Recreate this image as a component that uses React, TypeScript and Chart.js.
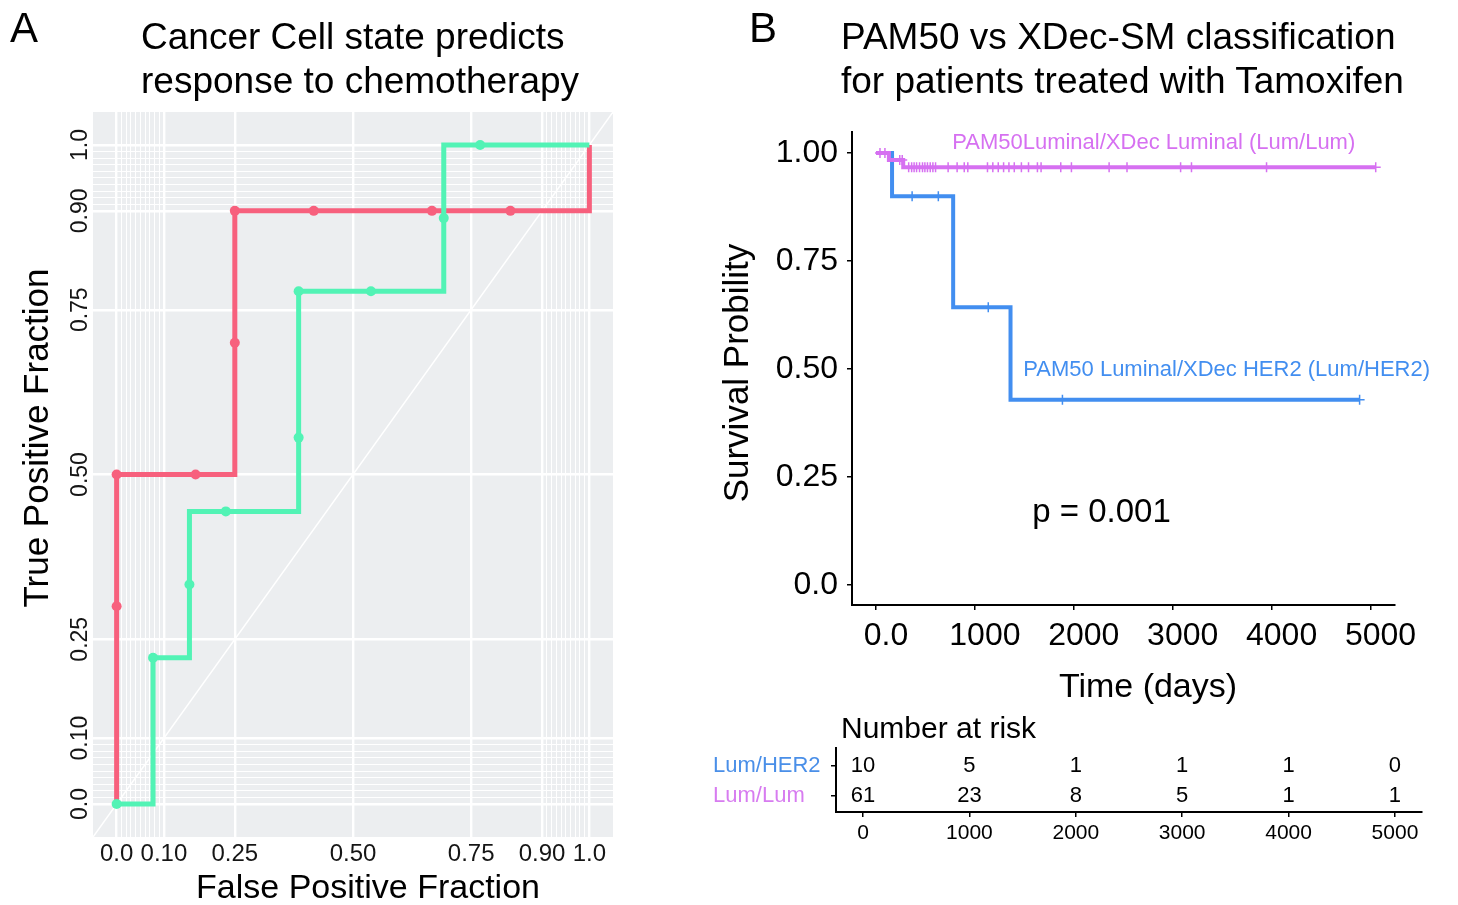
import React, { useEffect, useRef } from 'react';
import { Chart, registerables } from 'chart.js';

Chart.register(...registerables);

const FONT = '"Liberation Sans", Arial, Helvetica, sans-serif';

// ---------------- Panel A : ROC ----------------
const rocMajorTicks = [0, 0.1, 0.25, 0.5, 0.75, 0.9, 1.0];
const rocMajorLabels = ['0.0', '0.10', '0.25', '0.50', '0.75', '0.90', '1.0'];
const rocMinorTicks = [0.01, 0.02, 0.03, 0.04, 0.05, 0.06, 0.07, 0.08, 0.09, 0.91, 0.92, 0.93, 0.94, 0.95, 0.96, 0.97, 0.98, 0.99];

// red curve (path corners and cut-off points)
const redPathFPF = [0, 0, 0.25, 0.25, 1.0, 1.0];
const redPathTPF = [0, 0.5, 0.5, 0.9, 0.9, 1.0];
const redCutFPF = [0, 0, 0.167, 0.25, 0.25, 0.417, 0.667, 0.833];
const redCutTPF = [0.3, 0.5, 0.5, 0.7, 0.9, 0.9, 0.9, 0.9];

// green curve
const greenPathFPF = [0, 0.077, 0.077, 0.154, 0.154, 0.385, 0.385, 0.692, 0.692, 1.0];
const greenPathTPF = [0, 0, 0.222, 0.222, 0.444, 0.444, 0.778, 0.778, 1.0, 1.0];
const greenCutFPF = [0, 0.077, 0.154, 0.231, 0.385, 0.385, 0.538, 0.692, 0.769];
const greenCutTPF = [0, 0.222, 0.333, 0.444, 0.556, 0.778, 0.778, 0.889, 1.0];

const diagonal = [-0.05, 1.05];

const RED = '#f7607d';
const GREEN = '#52f3b5';
const PANEL_BG = '#eceef0';

// ---------------- Panel B : Kaplan-Meier ----------------
const kmTicks = [0, 1000, 2000, 3000, 4000, 5000];
const survTicks = [0, 0.25, 0.5, 0.75, 1.0];
const survTickLabels = ['0.0', '0.25', '0.50', '0.75', '1.00'];

const her2Times = [0, 162, 780, 1360, 4890];
const her2Surv = [1.0, 0.9, 0.643, 0.429, 0.429];
const her2Censor = [365, 630, 1135, 1885, 4890];

const lumTimes = [0, 130, 275, 5055];
const lumSurv = [1.0, 0.984, 0.967, 0.967];
const lumCensor = [40, 90, 240, 265, 330, 360, 385, 410, 440, 470, 494, 520, 548, 575, 602, 729, 820, 892, 928,
  1127, 1181, 1236, 1290, 1344, 1398, 1470, 1542, 1632, 1669, 1868, 1976, 2357, 2538, 3080, 3190, 3949, 5053];

const BLUE = '#428ef0';
const VIOLET = '#d670f1';

// ---------------- Risk table ----------------
const riskTimes = [0, 1000, 2000, 3000, 4000, 5000];
const riskHER2 = [10, 5, 1, 1, 1, 0];
const riskLum = [61, 23, 8, 5, 1, 1];
const riskGroups = ['Lum/Lum', 'Lum/HER2'];
const riskGroupColors = ['#d77cf0', '#4a8fe8'];

// ---------------- helpers ----------------
const near = (a: number, b: number) => Math.abs(a - b) < 1e-9;
const isRocMajor = (v: number) => rocMajorTicks.some((m) => near(m, v));
const rocLabel = (v: number) => {
  const i = rocMajorTicks.findIndex((m) => near(m, v));
  return i >= 0 ? rocMajorLabels[i] : '';
};
const zipXY = (xs: number[], ys: number[]) => xs.map((x, i) => ({ x, y: ys[i] }));

function stepPath(times: number[], surv: number[]) {
  const pts = [{ x: times[0], y: surv[0] }];
  for (let i = 1; i < times.length; i++) {
    pts.push({ x: times[i], y: surv[i - 1] });
    pts.push({ x: times[i], y: surv[i] });
  }
  return pts;
}
function survAt(times: number[], surv: number[], t: number) {
  let s = surv[0];
  for (let i = 0; i < times.length; i++) if (times[i] <= t) s = surv[i];
  return s;
}

type FreeText = { text: string; x: number; y: number; size: number; rotate?: number; align?: CanvasTextAlign; color?: string };
function makeTextPlugin(id: string, items: FreeText[]) {
  return {
    id,
    afterDraw(chart: any) {
      const ctx = chart.ctx;
      items.forEach((it) => {
        ctx.save();
        ctx.font = `${it.size}px ${FONT}`;
        ctx.fillStyle = it.color || '#000';
        ctx.textAlign = it.align || 'center';
        ctx.textBaseline = 'middle';
        ctx.translate(it.x, it.y);
        if (it.rotate) ctx.rotate(it.rotate);
        ctx.fillText(it.text, 0, 0);
        ctx.restore();
      });
    },
  };
}

type DataText = { text: string; t: number; s: number; size: number; color: string };
function makeDataTextPlugin(id: string, items: DataText[]) {
  return {
    id,
    afterDraw(chart: any) {
      const ctx = chart.ctx;
      const { x, y } = chart.scales;
      items.forEach((it) => {
        ctx.save();
        ctx.font = `${it.size}px ${FONT}`;
        ctx.fillStyle = it.color;
        ctx.textAlign = 'left';
        ctx.textBaseline = 'middle';
        ctx.fillText(it.text, x.getPixelForValue(it.t), y.getPixelForValue(it.s));
        ctx.restore();
      });
    },
  };
}

const panelBgPlugin = {
  id: 'panelBg',
  beforeDraw(chart: any) {
    const { ctx, chartArea: a } = chart;
    ctx.save();
    ctx.fillStyle = PANEL_BG;
    ctx.fillRect(a.left, a.top, a.right - a.left, a.bottom - a.top);
    ctx.restore();
  },
};

const rocYLabelsPlugin = {
  id: 'rocYLabels',
  afterDraw(chart: any) {
    const { ctx } = chart;
    const y = chart.scales.y;
    ctx.save();
    ctx.font = `23px ${FONT}`;
    ctx.fillStyle = '#151515';
    ctx.textAlign = 'center';
    ctx.textBaseline = 'middle';
    rocMajorTicks.forEach((v, i) => {
      ctx.save();
      ctx.translate(y.right - 12, y.getPixelForValue(v));
      ctx.rotate(-Math.PI / 2);
      ctx.fillText(rocMajorLabels[i], 0, 0);
      ctx.restore();
    });
    ctx.restore();
  },
};

const riskNumbersPlugin = {
  id: 'riskNumbers',
  afterDraw(chart: any) {
    const { ctx } = chart;
    const { x, y } = chart.scales;
    ctx.save();
    ctx.font = `22px ${FONT}`;
    ctx.fillStyle = '#000';
    ctx.textAlign = 'center';
    ctx.textBaseline = 'middle';
    riskTimes.forEach((t, i) => {
      ctx.fillText(String(riskHER2[i]), x.getPixelForValue(t), y.getPixelForValue(1));
      ctx.fillText(String(riskLum[i]), x.getPixelForValue(t), y.getPixelForValue(0));
    });
    ctx.restore();
  },
};

function rocConfig(): any {
  const grid = [...rocMajorTicks, ...rocMinorTicks].sort((a, b) => a - b);
  const gridOpts = {
    color: '#ffffff',
    lineWidth: (c: any) => (c.tick && isRocMajor(c.tick.value) ? 2.4 : 1),
    drawTicks: false,
  };
  return {
    type: 'scatter',
    data: {
      datasets: [
        { data: zipXY(greenCutFPF, greenCutTPF), showLine: false, pointRadius: 5, pointBackgroundColor: GREEN, pointBorderWidth: 0, order: 0 },
        { data: zipXY(greenPathFPF, greenPathTPF), showLine: true, borderColor: GREEN, borderWidth: 5, pointRadius: 0, order: 1 },
        { data: zipXY(redCutFPF, redCutTPF), showLine: false, pointRadius: 5, pointBackgroundColor: RED, pointBorderWidth: 0, order: 2 },
        { data: zipXY(redPathFPF, redPathTPF), showLine: true, borderColor: RED, borderWidth: 5, pointRadius: 0, order: 3 },
        { data: zipXY(diagonal, diagonal), showLine: true, borderColor: '#ffffff', borderWidth: 1.5, pointRadius: 0, order: 4 },
      ],
    },
    options: {
      animation: false,
      responsive: false,
      maintainAspectRatio: false,
      layout: { padding: { top: 112, right: 27, left: 0, bottom: 0 } },
      plugins: { legend: { display: false }, tooltip: { enabled: false } },
      scales: {
        x: {
          type: 'linear',
          min: -0.05,
          max: 1.05,
          afterBuildTicks: (ax: any) => { ax.ticks = grid.map((v) => ({ value: v })); },
          afterFit: (ax: any) => { ax.height = 68; },
          grid: gridOpts,
          border: { display: false },
          ticks: {
            autoSkip: false, maxRotation: 0, minRotation: 0, padding: 5, color: '#151515',
            font: { family: FONT, size: 24, lineHeight: 1 },
            callback: (v: number) => rocLabel(v),
          },
        },
        y: {
          type: 'linear',
          min: -0.05,
          max: 1.05,
          afterBuildTicks: (ax: any) => { ax.ticks = grid.map((v) => ({ value: v })); },
          afterFit: (ax: any) => { ax.width = 93; },
          grid: gridOpts,
          border: { display: false },
          ticks: { display: false },
        },
      },
    },
    plugins: [
      panelBgPlugin,
      rocYLabelsPlugin,
      makeTextPlugin('rocTitles', [
        { text: 'False Positive Fraction', x: 368, y: 889, size: 34 },
        { text: 'True Positive Fraction', x: 38, y: 438, size: 35, rotate: -Math.PI / 2 },
      ]),
    ],
  };
}

function kmConfig(): any {
  const her2Cens = her2Censor.map((t) => ({ x: t, y: survAt(her2Times, her2Surv, t) }));
  const lumCens = lumCensor.map((t) => ({ x: t, y: survAt(lumTimes, lumSurv, t) }));
  const tickGrid = { drawOnChartArea: false, drawTicks: true, tickLength: 5, color: '#000', lineWidth: 1.5 };
  return {
    type: 'scatter',
    data: {
      datasets: [
        { label: 'Lum/Lum censored', data: lumCens, showLine: false, pointStyle: 'cross', pointRadius: 5, borderColor: VIOLET, pointBorderColor: VIOLET, pointBorderWidth: 1.5, order: 0 },
        { label: 'Lum/Lum', data: stepPath(lumTimes, lumSurv), showLine: true, borderColor: VIOLET, borderWidth: 4, pointRadius: 0, order: 1 },
        { label: 'Lum/HER2 censored', data: her2Cens, showLine: false, pointStyle: 'cross', pointRadius: 5, borderColor: BLUE, pointBorderColor: BLUE, pointBorderWidth: 1.5, order: 2 },
        { label: 'Lum/HER2', data: stepPath(her2Times, her2Surv), showLine: true, borderColor: BLUE, borderWidth: 4, pointRadius: 0, order: 3 },
      ],
    },
    options: {
      animation: false,
      responsive: false,
      maintainAspectRatio: false,
      layout: { padding: { top: 132, right: 63, left: 0, bottom: 0 } },
      plugins: { legend: { display: false }, tooltip: { enabled: false } },
      scales: {
        x: {
          type: 'linear',
          min: -243,
          max: 5248,
          afterBuildTicks: (ax: any) => { ax.ticks = kmTicks.map((v) => ({ value: v })); },
          afterFit: (ax: any) => { ax.height = 115; },
          grid: tickGrid,
          border: { display: true, color: '#000', width: 2 },
          ticks: {
            autoSkip: false, maxRotation: 0, minRotation: 0, padding: 10, labelOffset: 10, color: '#000',
            font: { family: FONT, size: 32, lineHeight: 1 },
            callback: (v: number) => (v === 0 ? '0.0' : String(v)),
          },
        },
        y: {
          type: 'linear',
          min: -0.0463,
          max: 1.0486,
          afterBuildTicks: (ax: any) => { ax.ticks = survTicks.map((v) => ({ value: v })); },
          afterFit: (ax: any) => { ax.width = 212; },
          grid: tickGrid,
          border: { display: true, color: '#000', width: 2 },
          ticks: {
            padding: 9, color: '#000',
            font: { family: FONT, size: 32, lineHeight: 1 },
            callback: (v: number) => {
              const i = survTicks.findIndex((m) => near(m, v));
              return i >= 0 ? survTickLabels[i] : '';
            },
          },
        },
      },
    },
    plugins: [
      makeTextPlugin('kmTitles', [
        { text: 'Time (days)', x: 508, y: 688, size: 34 },
        { text: 'Survival Probility', x: 98, y: 373, size: 35, rotate: -Math.PI / 2 },
      ]),
      makeDataTextPlugin('kmLabels', [
        { text: 'PAM50Luminal/XDec Luminal (Lum/Lum)', t: 770, s: 1.023, size: 22, color: VIOLET },
        { text: 'PAM50 Luminal/XDec HER2 (Lum/HER2)', t: 1489, s: 0.498, size: 22, color: BLUE },
        { text: 'p = 0.001', t: 1580, s: 0.167, size: 33, color: '#000' },
      ]),
    ],
  };
}

function riskConfig(): any {
  const tickGrid = { drawOnChartArea: false, drawTicks: true, tickLength: 5, color: '#000', lineWidth: 1.5 };
  return {
    type: 'scatter',
    data: { datasets: [] },
    options: {
      animation: false,
      responsive: false,
      maintainAspectRatio: false,
      layout: { padding: { top: 28, right: 36, left: 13, bottom: 0 } },
      plugins: { legend: { display: false }, tooltip: { enabled: false } },
      scales: {
        x: {
          type: 'linear',
          min: -254,
          max: 5254,
          afterBuildTicks: (ax: any) => { ax.ticks = riskTimes.map((v) => ({ value: v })); },
          afterFit: (ax: any) => { ax.height = 93; },
          grid: tickGrid,
          border: { display: true, color: '#000', width: 2 },
          ticks: {
            autoSkip: false, maxRotation: 0, minRotation: 0, padding: 6, color: '#000',
            font: { family: FONT, size: 21, lineHeight: 1 },
            callback: (v: number) => String(v),
          },
        },
        y: {
          type: 'linear',
          min: -0.533,
          max: 1.6,
          afterBuildTicks: (ax: any) => { ax.ticks = [0, 1].map((v) => ({ value: v })); },
          afterFit: (ax: any) => { ax.width = 123; },
          grid: tickGrid,
          border: { display: true, color: '#000', width: 2 },
          ticks: {
            crossAlign: 'far',
            color: (c: any) => (c.tick ? riskGroupColors[Math.round(c.tick.value)] : '#000'),
            font: { family: FONT, size: 22, lineHeight: 1 },
            callback: (v: number) => riskGroups[Math.round(v)] || '',
          },
        },
      },
    },
    plugins: [riskNumbersPlugin],
  };
}

function ChartCanvas({ make, left, top, width, height }: { make: () => any; left: number; top: number; width: number; height: number }) {
  const ref = useRef<HTMLCanvasElement>(null);
  useEffect(() => {
    if (!ref.current) return;
    const chart = new Chart(ref.current, make());
    return () => chart.destroy();
  }, []);
  return (
    <canvas
      ref={ref}
      width={width}
      height={height}
      style={{ position: 'absolute', left, top, width, height, display: 'block' }}
    />
  );
}

export default function App() {
  const titleStyle: React.CSSProperties = {
    position: 'absolute',
    fontSize: 37,
    lineHeight: '44px',
    whiteSpace: 'nowrap',
    color: '#000',
  };
  return (
    <div
      style={{
        position: 'fixed', left: 0, top: 0, width: 1458, height: 905, background: '#fff',
        overflow: 'hidden', fontFamily: FONT,
      }}
    >
      <ChartCanvas make={rocConfig} left={0} top={0} width={640} height={905} />
      <ChartCanvas make={kmConfig} left={640} top={0} width={818} height={720} />
      <ChartCanvas make={riskConfig} left={700} top={720} width={758} height={185} />

      <div style={{ position: 'absolute', left: 10, top: 7, fontSize: 42, lineHeight: '42px' }}>A</div>
      <div style={{ ...titleStyle, left: 141, top: 15 }}>
        Cancer Cell state predicts
        <br />
        response to chemotherapy
      </div>
      <div style={{ position: 'absolute', left: 749, top: 7, fontSize: 42, lineHeight: '42px' }}>B</div>
      <div style={{ ...titleStyle, left: 841, top: 15 }}>
        PAM50 vs XDec-SM classification
        <br />
        for patients treated with Tamoxifen
      </div>
      <div style={{ position: 'absolute', left: 841, top: 713, fontSize: 30, lineHeight: '30px', whiteSpace: 'nowrap' }}>
        Number at risk
      </div>
    </div>
  );
}
